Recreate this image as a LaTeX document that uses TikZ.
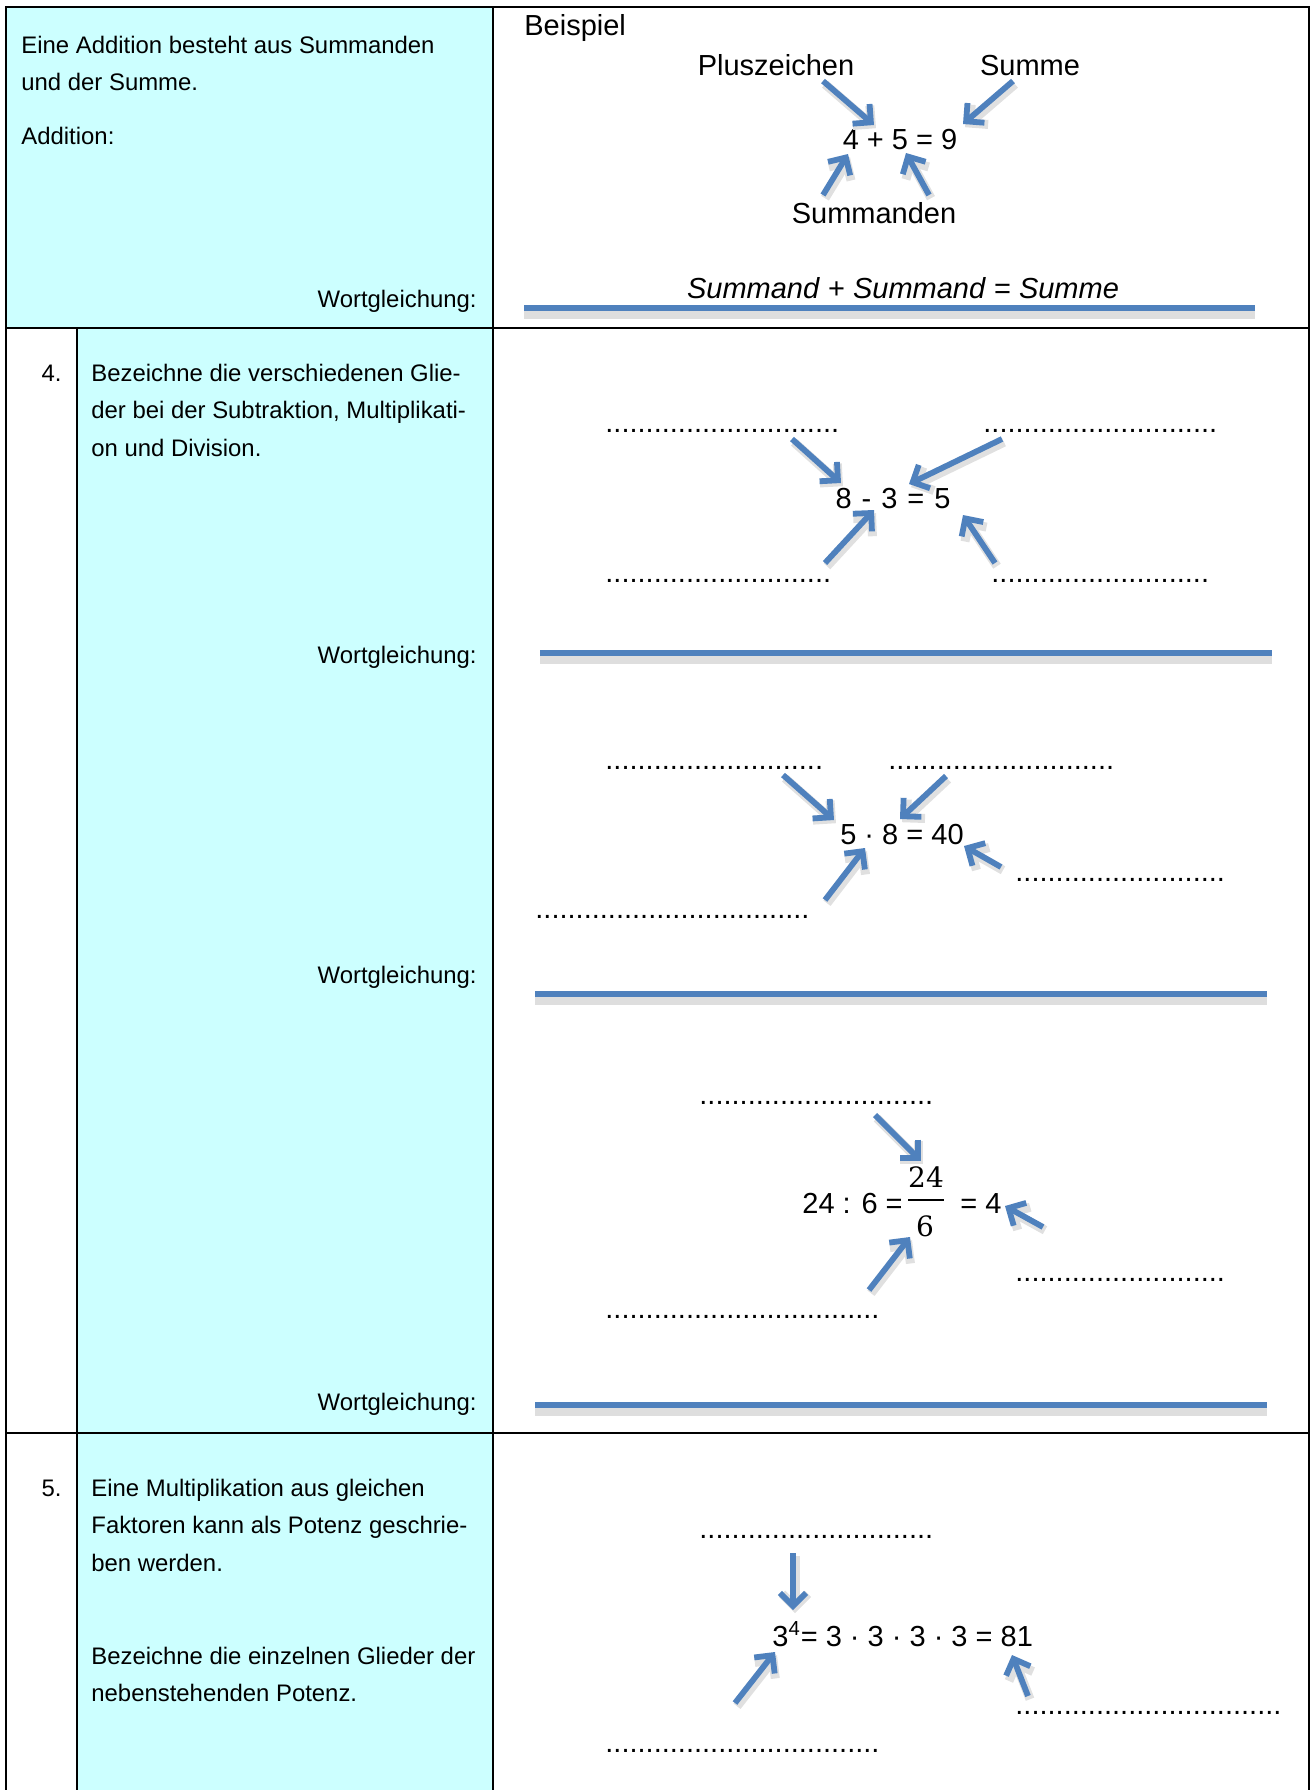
\documentclass[tikz,border=0pt]{standalone}
\usepackage{fontspec}
\setmainfont{Liberation Sans}
\newfontfamily\bruchschrift{DejaVu Serif}
\usepackage{amsmath}
\usepackage{tikz}
\tikzset{>=latex}
\usetikzlibrary{arrows.meta}

\definecolor{zellcyan}{RGB}{204,255,255}
\definecolor{pfeilblau}{RGB}{79,129,189}

\newcommand{\luecke}[1]{\foreach \k in {1,...,#1}{.}}

\tikzset{
  rahmen/.style={line width=1pt, black},
  zeile/.style={anchor=base west, inner sep=0pt, font=\fontsize{11.95}{14}\selectfont},
  wort/.style={anchor=base east, inner sep=0pt, font=\fontsize{11.95}{14}\selectfont},
  beschr/.style={anchor=base, inner sep=0pt, font=\fontsize{14.5}{17}\selectfont},
  gleich/.style={anchor=base west, inner sep=0pt, font=\fontsize{14.5}{17}\selectfont},
  luecken/.style={anchor=base west, inner sep=0pt, font=\fontsize{14.5}{17}\selectfont},
  bruch/.style={anchor=base, inner sep=0pt, font=\bruchschrift\fontsize{14}{17}\selectfont},
  pfeil/.style={pfeilblau, line width=2.9pt, -{Straight Barb[length=6.5pt,width=13pt]},
    preaction={draw=black!12, line width=4.5pt, transform canvas={shift={(1pt,-1.6pt)}}}},
  antwort/.style={pfeilblau, line width=2.6pt,
    preaction={draw=black!13, line width=4.5pt, transform canvas={yshift=-3pt}}},
}

\begin{document}
\begin{tikzpicture}[x=0.5pt, y=-0.5pt]
    \useasboundingbox (0,0) rectangle (1311,1790);

    % Tabelle
    \fill[zellcyan] (6,7) rectangle (493,328);
    \fill[zellcyan] (77,328) rectangle (493,1790);
    \draw[rahmen] (6,1790) -- (6,7) -- (1309,7) -- (1309,1790);
    \draw[rahmen] (493,7) -- (493,1790);
    \draw[rahmen] (77,328) -- (77,1790);
    \draw[rahmen] (6,328) -- (1309,328);
    \draw[rahmen] (6,1433) -- (1309,1433);

    % Addition, links
    \node[zeile] (add1) at (21,53) {Eine Addition besteht aus Summanden};
    \node[zeile] (add2) at (21,90) {und der Summe.};
    \node[zeile] (add3) at (21,144) {Addition:};
    \node[wort] (wg0) at (477,307) {Wortgleichung:};

    % Addition, Beispiel
    \node[gleich] (beisp) at (524,35) {Beispiel};
    \node[beschr] (plus) at (776,75) {Pluszeichen};
    \node[beschr] (summe) at (1030,75) {Summe};
    \node[beschr] (eqadd) at (900,149) {4 + 5 = 9};
    \node[beschr] (summanden) at (874,223) {Summanden};
    \node[beschr] (wgadd) at (903,298) {\textit{Summand} + \textit{Summand} = \textit{Summe}};
    \draw[antwort] (524,308) -- (1255,308);

    \coordinate (p1) at (823,81);   \coordinate (q1) at (874,125);
    \coordinate (p2) at (1013,81);  \coordinate (q2) at (963,124);
    \coordinate (p3) at (823,195);  \coordinate (q3) at (848,154);
    \coordinate (p4) at (929,195);  \coordinate (q4) at (906,153);
    \foreach \i in {1,...,4}{
            \draw[pfeil] (p\i) -- (q\i);
        }

    % Aufgabe 4, links
    \node[wort] (nr4) at (62,381) {4.};
    \foreach \txt [count=\i from 0] in {Bezeichne die verschiedenen Glie-, {der bei der Subtraktion, Multiplikati-}, on und Division.}{
            \node[zeile] (auf4\i) at (91,{381+37.5*\i}) {\txt};
        }
    \node[wort] (wg1) at (477,663) {Wortgleichung:};
    \node[wort] (wg2) at (477,983) {Wortgleichung:};
    \node[wort] (wg3) at (477,1410) {Wortgleichung:};

    % Subtraktion
    \node[luecken] (s1) at (605,432) {\luecke{29}};
    \node[luecken] (s2) at (983,432) {\luecke{29}};
    \node[luecken] (s3) at (605,582) {\luecke{28}};
    \node[luecken] (s4) at (991,582) {\luecke{27}};
    \node[beschr] (eqsub) at (893,508) {8\hspace{5pt}-\hspace{5pt}3\hspace{5pt}=\hspace{5pt}5};
    \draw[antwort] (540,653) -- (1272,653);

    \coordinate (p5) at (792,439);  \coordinate (q5) at (841,483);
    \coordinate (p6) at (1002,439); \coordinate (q6) at (909,484);
    \coordinate (p7) at (825,563);  \coordinate (q7) at (874,510);
    \coordinate (p8) at (995,563);  \coordinate (q8) at (963,515);

    % Multiplikation
    \node[luecken] (m1) at (605,769) {\luecke{27}};
    \node[luecken] (m2) at (888,769) {\luecke{28}};
    \node[luecken] (m3) at (1015,881) {\luecke{26}};
    \node[luecken] (m4) at (535,918) {\luecke{34}};
    \node[beschr] (eqmul) at (902,844) {5 · 8 = 40};
    \draw[antwort] (535,994) -- (1267,994);

    \coordinate (p9) at (783,775);   \coordinate (q9) at (834,820);
    \coordinate (p10) at (946,776);  \coordinate (q10) at (900,819);
    \coordinate (p11) at (825,900);  \coordinate (q11) at (865,848);
    \coordinate (p12) at (1001,867); \coordinate (q12) at (964,846);

    % Division
    \node[luecken] (d1) at (699,1104) {\luecke{29}};
    \node[luecken] (d2) at (1015,1281) {\luecke{26}};
    \node[luecken] (d3) at (605,1318) {\luecke{34}};
    \node[gleich] (eqdiv) at (802,1213) {24 : 6 =};
    \node[bruch] (zaehler) at (926,1187) {24};
    \draw[line width=1.1pt] (908,1200) -- (944,1200);
    \node[bruch] (nenner) at (925,1236) {6};
    \node[gleich] (eqdiv2) at (960,1213) {= 4};
    \draw[antwort] (535,1405) -- (1267,1405);

    \coordinate (p13) at (875,1115);  \coordinate (q13) at (921,1161);
    \coordinate (p14) at (869,1290);  \coordinate (q14) at (910,1237);
    \coordinate (p15) at (1043,1227); \coordinate (q15) at (1005,1206);

    % Aufgabe 5, links
    \node[wort] (nr5) at (62,1496) {5.};
    \foreach \txt [count=\i from 0] in {Eine Multiplikation aus gleichen, Faktoren kann als Potenz geschrie-, ben werden.}{
            \node[zeile] (auf5\i) at (91,{1496+37.5*\i}) {\txt};
        }
    \node[zeile] (auf5b0) at (91,1664) {Bezeichne die einzelnen Glieder der};
    \node[zeile] (auf5b1) at (91,1701) {nebenstehenden Potenz.};

    % Potenz
    \node[luecken] (t1) at (699,1538) {\luecke{29}};
    \node[luecken] (t2) at (1015,1714) {\luecke{33}};
    \node[luecken] (t3) at (605,1752) {\luecke{34}};
    \node[gleich] (eqpot) at (772,1646) {3\textsuperscript{4}= 3 · 3 · 3 · 3 = 81};

    \coordinate (p16) at (793,1553);  \coordinate (q16) at (793,1610);
    \coordinate (p17) at (735,1703);  \coordinate (q17) at (775,1652);
    \coordinate (p18) at (1028,1696); \coordinate (q18) at (1012,1655);

    \foreach \i in {5,...,18}{
            \draw[pfeil] (p\i) -- (q\i);
        }

\end{tikzpicture}
\end{document}
